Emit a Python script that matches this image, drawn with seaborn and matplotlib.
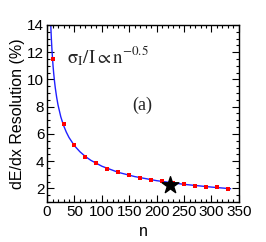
import seaborn as sns
import matplotlib.pyplot as plt
import numpy as np
import pandas as pd
from matplotlib.ticker import MultipleLocator

# data
n_pts = [10, 30, 50, 70, 90, 110, 130, 150, 170, 190, 210, 230, 250, 270, 290, 310, 330]
res_pts = [11.5, 6.70, 5.18, 4.32, 3.87, 3.46, 3.19, 2.97, 2.80, 2.65, 2.53, 2.40, 2.29, 2.21, 2.11, 2.07, 1.96]

# fitted curve (n^-0.5)
n_fit = [6.7, 7.5, 8, 9, 10, 11, 12, 13.5, 15, 17.5, 20, 25, 30, 35, 40, 50, 60, 70, 80, 100, 130, 160, 200, 250, 300, 335]
res_fit = [14.0, 13.25, 12.83, 12.1, 11.48, 10.94, 10.48, 9.88, 9.37, 8.68, 8.12, 7.26, 6.63, 6.14, 5.74, 5.13, 4.69, 4.34, 4.06, 3.63, 3.18, 2.87, 2.57, 2.30, 2.10, 1.98]

# reference point (star)
n_star = [224]
res_star = [2.24]

pts = pd.DataFrame({'n': n_pts, 'res': res_pts})
fit = pd.DataFrame({'n': n_fit, 'res': res_fit})

sns.set_style('ticks')
plt.rcParams['font.family'] = ['Liberation Sans', 'DejaVu Sans']
plt.rcParams['mathtext.fontset'] = 'stix'

fig = plt.figure(figsize=(2.66, 2.42), dpi=100)
ax = fig.add_axes([0.177, 0.165, 0.721, 0.732])

sns.lineplot(data=fit, x='n', y='res', color='#2020ff', linewidth=1.0, ax=ax)
sns.scatterplot(data=pts, x='n', y='res', color='red', marker='s', s=9, linewidth=0, ax=ax, zorder=3)
ax.scatter(n_star, res_star, marker='*', s=160, color='black', zorder=4)

ax.set_xlim(0, 350)
ax.set_ylim(1, 14)
ax.xaxis.set_major_locator(MultipleLocator(50))
ax.xaxis.set_minor_locator(MultipleLocator(10))
ax.yaxis.set_major_locator(MultipleLocator(2))
ax.yaxis.set_minor_locator(MultipleLocator(0.5))
ax.tick_params(which='both', direction='in', top=True, right=True, labelsize=11,
               width=0.8, color='black', labelcolor='black', pad=2)
ax.tick_params(which='major', length=5)
ax.tick_params(which='minor', length=2.5)
for s in ax.spines.values():
    s.set_linewidth(1.0)
    s.set_color('black')

ax.set_xlabel('n', fontsize=11.5, color='black')
ax.set_ylabel('dE/dx Resolution (%)', fontsize=11.5, labelpad=2, color='black')

ax.text(0.105, 0.785, r'$\mathrm{\sigma_{I}/I \propto n^{-0.5}}$', transform=ax.transAxes,
        fontsize=13.5, va='baseline')
ax.text(0.445, 0.52, '(a)', transform=ax.transAxes, fontsize=13, va='baseline',
        family=['Liberation Serif', 'DejaVu Serif'])

fig.savefig('out.png', dpi=100)
